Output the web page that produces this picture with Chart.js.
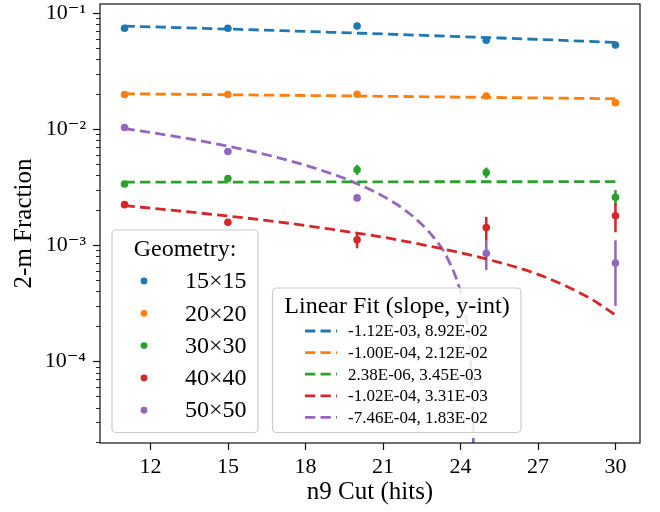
<!DOCTYPE html>
<html>
<head>
<meta charset="utf-8">
<script src="https://cdn.jsdelivr.net/npm/chart.js@4.4.1/dist/chart.umd.min.js"></script>
<style>
  html, body { margin: 0; padding: 0; background: #fff; }
</style>
</head>
<body>
<canvas id="fracChart" width="660" height="512"></canvas>
<script>
// n9 cut values (hits) and geometry names
const cuts = [11, 15, 20, 25, 30];
const geometries = ['15×15', '20×20', '30×30', '40×40', '50×50'];
const colors = ['#1f77b4', '#ff7f0e', '#2ca02c', '#d62728', '#9467bd'];

// measured 2-m fraction per geometry, with errors
const frac15 = [0.0735, 0.0735, 0.0768, 0.0580, 0.0528];
const err15 = [0.0010, 0.0010, 0.0012, 0.0014, 0.0016];
const frac20 = [0.0198, 0.0198, 0.0199, 0.0192, 0.0168];
const err20 = [0.0003, 0.0003, 0.0004, 0.0005, 0.0006];
const frac30 = [0.00336, 0.00375, 0.00446, 0.00422, 0.00258];
const err30 = [0.00008, 0.00010, 0.00044, 0.00043, 0.00040];
const frac40 = [0.00223, 0.00157, 0.00111, 0.00142, 0.00179];
const err40 = [0.00005, 0.00005, 0.00017, 0.00033, 0.00050];
const frac50 = [0.0103, 0.0064, 0.00255, 0.00085, 0.00070];
const err50 = [0.0002, 0.00015, 0.00012, 0.00024, 0.00040];

// linear fit curves
const fitLabels = ['-1.12E-03, 8.92E-02', '-1.00E-04, 2.12E-02', '2.38E-06, 3.45E-03',
                   '-1.02E-04, 3.31E-03', '-7.46E-04, 1.83E-02'];
const fitCuts = [11, 13, 15, 17, 19, 21, 23, 25, 27, 29, 30];
const fit15 = [0.0769, 0.0746, 0.0724, 0.0702, 0.0679, 0.0657, 0.0634, 0.0612, 0.0590, 0.0567, 0.0556];
const fit20 = [0.0201, 0.0199, 0.0197, 0.0195, 0.0193, 0.0191, 0.0189, 0.0187, 0.0185, 0.0183, 0.0182];
const fit30 = [0.00348, 0.00348, 0.00349, 0.00349, 0.00350, 0.00350, 0.00351, 0.00351, 0.00351, 0.00352, 0.00352];
const fit40 = [0.00219, 0.00198, 0.00178, 0.00158, 0.00137, 0.00117, 0.00096, 0.00076, 0.00056, 0.00035, 0.00025];
const fitCuts50 = [11, 13, 15, 17, 19, 20, 21, 22, 23, 23.5, 24, 24.2, 24.4, 24.5, 24.52];
const fit50 = [0.01009, 0.0086, 0.00711, 0.00562, 0.00413, 0.00338, 0.00264, 0.00189, 0.00114,
               0.00077, 0.00040, 0.00025, 0.000098, 0.000023, 0.000008];

const xTicks = [12, 15, 18, 21, 24, 27, 30];

const fractions = [frac15, frac20, frac30, frac40, frac50];
const errors = [err15, err20, err30, err40, err50];
const fits = [fit15, fit20, fit30, fit40, fit50];
const fitXs = [fitCuts, fitCuts, fitCuts, fitCuts, fitCuts50];

const FONT = '"Liberation Serif", "DejaVu Serif", serif';
const DASH = [10.3, 5.2];
const SUP = {'-': '⁻', '0': '⁰', '1': '¹', '2': '²', '3': '³', '4': '⁴', '5': '⁵', '6': '⁶', '7': '⁷', '8': '⁸', '9': '⁹'};

function isDecade(v) {
  const e = Math.round(Math.log10(v));
  return Math.abs(v / Math.pow(10, e) - 1) < 1e-6;
}

const datasets = [];
fits.forEach((f, i) => {
  datasets.push({
    type: 'line',
    label: fitLabels[i],
    data: fitXs[i].map((x, j) => ({x: x, y: f[j]})),
    borderColor: colors[i],
    borderWidth: 2.8,
    borderDash: DASH,
    pointRadius: 0,
    cubicInterpolationMode: 'monotone',
    order: 1
  });
});
fractions.forEach((f, i) => {
  datasets.push({
    type: 'scatter',
    label: geometries[i],
    data: cuts.map((x, j) => ({x: x, y: f[j]})),
    errors: errors[i],
    borderColor: colors[i],
    backgroundColor: colors[i],
    pointRadius: 3.8,
    pointBorderWidth: 0,
    order: 0
  });
});

const errorBars = {
  id: 'errorBars',
  beforeDatasetsDraw(chart) {
    const {ctx, scales: {x, y}} = chart;
    ctx.save();
    ctx.lineWidth = 2.5;
    chart.data.datasets.forEach(ds => {
      if (!ds.errors) return;
      ctx.strokeStyle = ds.borderColor;
      ds.data.forEach((p, j) => {
        const px = x.getPixelForValue(p.x);
        ctx.beginPath();
        ctx.moveTo(px, y.getPixelForValue(p.y - ds.errors[j]));
        ctx.lineTo(px, y.getPixelForValue(p.y + ds.errors[j]));
        ctx.stroke();
      });
    });
    ctx.restore();
  }
};

// frame + matplotlib style tick marks
const frameTicks = {
  id: 'frameTicks',
  afterDatasetsDraw(chart) {
    const {ctx, chartArea: a, scales: {x, y}} = chart;
    ctx.save();
    ctx.strokeStyle = '#111';
    ctx.lineWidth = 1.2;
    ctx.strokeRect(a.left, a.top, a.right - a.left, a.bottom - a.top);
    x.ticks.forEach(t => {
      const px = Math.round(x.getPixelForValue(t.value)) + 0.5;
      ctx.beginPath();
      ctx.moveTo(px, a.bottom);
      ctx.lineTo(px, a.bottom + 7);
      ctx.stroke();
    });
    y.ticks.forEach(t => {
      const py = Math.round(y.getPixelForValue(t.value)) + 0.5;
      const major = isDecade(t.value);
      ctx.lineWidth = major ? 1.2 : 0.9;
      ctx.beginPath();
      ctx.moveTo(a.left, py);
      ctx.lineTo(a.left - (major ? 7 : 4), py);
      ctx.stroke();
    });
    ctx.restore();
  }
};

function legendBox(ctx, x0, y0, x1, y1) {
  ctx.beginPath();
  ctx.roundRect(x0, y0, x1 - x0, y1 - y0, 4);
  ctx.fillStyle = 'rgba(255,255,255,0.85)';
  ctx.fill();
  ctx.strokeStyle = '#cccccc';
  ctx.lineWidth = 1.2;
  ctx.stroke();
  ctx.fillStyle = '#000';
}

const legends = {
  id: 'legends',
  afterDraw(chart) {
    const ctx = chart.ctx;
    ctx.save();
    ctx.textBaseline = 'middle';

    // geometry legend
    legendBox(ctx, 112, 230, 258, 432.5);
    ctx.font = '24px ' + FONT;
    ctx.textAlign = 'center';
    ctx.fillText('Geometry:', 185, 250);
    ctx.textAlign = 'left';
    geometries.forEach((g, i) => {
      const yy = 281 + i * 32.3;
      ctx.fillStyle = colors[i];
      ctx.beginPath();
      ctx.arc(144, yy, 3.4, 0, Math.PI * 2);
      ctx.fill();
      ctx.fillStyle = '#000';
      ctx.fillText(g, 185, yy + 1);
    });

    // fit legend
    legendBox(ctx, 272.5, 288, 521, 432.5);
    ctx.font = '24px ' + FONT;
    ctx.textAlign = 'center';
    ctx.fillText('Linear Fit (slope, y-int)', 397, 307);
    ctx.textAlign = 'left';
    ctx.font = '17px ' + FONT;
    fitLabels.forEach((l, i) => {
      const yy = 331 + i * 21.6;
      ctx.strokeStyle = colors[i];
      ctx.lineWidth = 2.8;
      ctx.setLineDash(DASH);
      ctx.beginPath();
      ctx.moveTo(305, yy);
      ctx.lineTo(337, yy);
      ctx.stroke();
      ctx.setLineDash([]);
      ctx.fillStyle = '#000';
      ctx.fillText(l, 348, yy + 1);
    });
    ctx.restore();
  }
};

new Chart(document.getElementById('fracChart'), {
  data: {datasets: datasets},
  options: {
    responsive: false,
    animation: false,
    devicePixelRatio: 1,
    layout: {padding: {left: 0, top: 3, right: 20, bottom: 0}},
    plugins: {legend: {display: false}, tooltip: {enabled: false}},
    scales: {
      x: {
        type: 'linear',
        min: 10.05,
        max: 30.95,
        afterBuildTicks: s => { s.ticks = xTicks.map(v => ({value: v})); },
        afterFit: s => { s.height = 69; s.paddingLeft = 0; s.paddingRight = 0; },
        grid: {display: false, drawTicks: false},
        border: {display: false},
        ticks: {color: '#000', padding: 11, font: {family: FONT, size: 22}, maxRotation: 0},
        title: {display: true, text: 'n9 Cut (hits)', color: '#000',
                font: {family: FONT, size: 25}, padding: {top: 0, bottom: 5}}
      },
      y: {
        type: 'logarithmic',
        min: 1.98e-5,
        max: 0.119,
        afterBuildTicks: s => {
          const t = [];
          for (let e = -5; e <= -1; e++) {
            for (let m = 1; m <= 9; m++) {
              const v = m * Math.pow(10, e);
              if (v >= s.min && v <= s.max) t.push({value: v});
            }
          }
          s.ticks = t;
        },
        afterFit: s => { s.width = 100; s.paddingTop = 0; s.paddingBottom = 0; },
        grid: {display: false, drawTicks: false},
        border: {display: false},
        ticks: {
          color: '#000', padding: 14, autoSkip: false,
          font: {family: FONT, size: 22},
          callback: v => {
            if (!isDecade(v)) return '';
            const e = String(Math.round(Math.log10(v)));
            return '10' + e.split('').map(c => SUP[c]).join('');
          }
        },
        title: {display: true, text: '2-m Fraction', color: '#000',
                font: {family: FONT, size: 25}, padding: {top: 9, bottom: 0}}
      }
    }
  },
  plugins: [errorBars, frameTicks, legends]
});
</script>
</body>
</html>
